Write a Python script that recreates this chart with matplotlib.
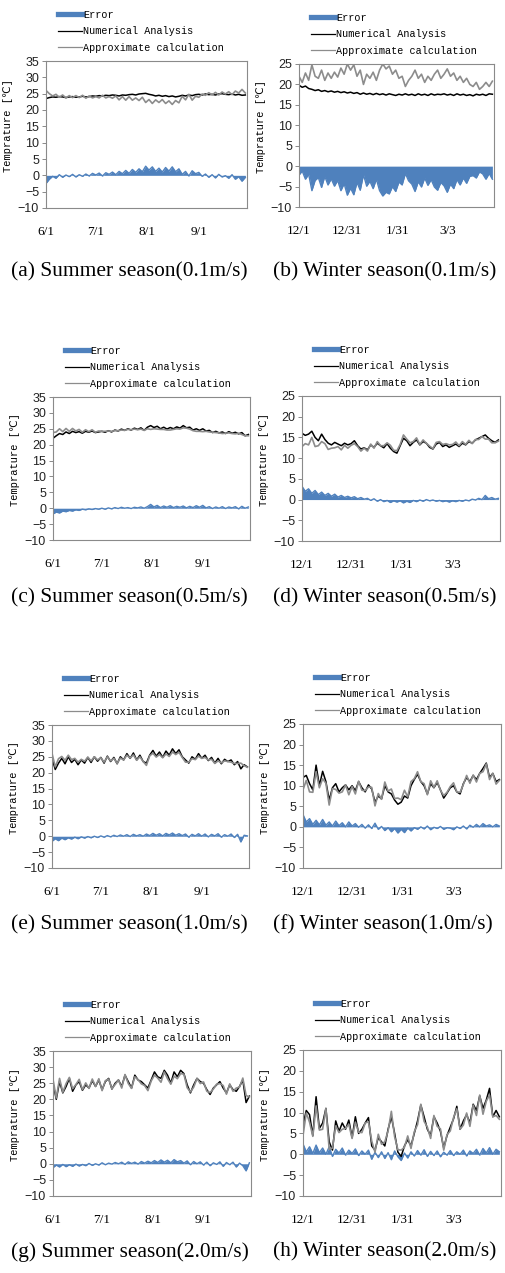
import numpy as np
import matplotlib
matplotlib.use("Agg")
import matplotlib.pyplot as plt
from matplotlib.lines import Line2D

# -------------------- DATA (one value every 2 days) --------------------
# numerical analysis temperature and error (numerical - approximate), in degC
num_a = [23.5, 23.8, 24.0, 23.9, 24.1, 24.0, 23.8, 24.0, 24.1, 23.9, 24.0, 24.2, 24.0, 24.1, 24.3,
         24.2, 24.4, 24.3, 24.5, 24.4, 24.6, 24.5, 24.3, 24.6, 24.5, 24.7, 24.8, 24.6, 24.9, 25.0,
         25.1, 24.8, 24.6, 24.3, 24.5, 24.2, 24.4, 24.1, 24.3, 24.0, 24.2, 24.5, 24.3, 24.6, 24.4, 24.7,
         24.8, 24.6, 24.9, 24.7, 24.8, 24.6, 24.9, 25.0, 24.8, 24.7, 24.9, 24.6, 24.8, 24.5, 24.6]
err_a = [-2.5, -1.2, -0.3, -0.9, 0.2, -0.6, 0.1, -0.4, 0.3, -0.5, 0.2, -0.3, 0.4, -0.2, 0.6,
         0.1, 0.7, -0.2, 0.8, 0.3, 1.0, 0.2, 1.2, 0.5, 1.5, 0.6, 1.8, 0.9, 2.0, 1.1,
         2.8, 1.6, 2.6, 1.2, 2.2, 1.0, 2.4, 1.3, 2.6, 1.1, 2.0, 0.3, 1.2, -0.2, 1.4, 0.5,
         0.9, -0.3, 0.4, -0.6, 0.2, -0.8, 0.3, -0.5, -0.1, -0.9, 0.2, -1.2, -0.4, -1.8, -0.6]

num_b = [19.8, 19.3, 19.6, 19.0, 18.8, 18.5, 18.7, 18.3, 18.5, 18.2, 18.4, 18.1, 18.3, 18.0, 18.2,
         17.9, 18.1, 17.8, 18.0, 17.6, 17.9, 17.6, 17.8, 17.5, 17.8, 17.5, 17.7, 17.4, 17.7, 17.5,
         17.3, 17.6, 17.4, 17.7, 17.4, 17.6, 17.3, 17.7, 17.4, 17.6, 17.3, 17.7, 17.4, 17.6, 17.5, 17.7,
         17.4, 17.6, 17.3, 17.7, 17.4, 17.6, 17.3, 17.5, 17.2, 17.6, 17.4, 17.6, 17.3, 17.7, 17.6]
err_b = [-2.2, -1.2, -3.2, -2.0, -6.0, -3.5, -2.8, -5.2, -2.5, -4.6, -3.1, -4.9, -3.5, -6.0, -4.3,
         -7.1, -5.4, -7.0, -4.0, -5.9, -2.1, -4.9, -3.7, -5.5, -3.2, -6.0, -7.3, -6.4, -6.8, -5.0,
         -6.2, -3.9, -4.6, -1.8, -3.6, -4.4, -6.2, -3.8, -5.1, -2.9, -4.7, -3.3, -5.1, -5.9, -4.0, -4.8,
         -6.4, -4.4, -5.5, -3.3, -4.6, -2.9, -4.2, -2.5, -2.3, -2.9, -1.4, -1.9, -3.2, -1.8, -3.2]

num_c = [22.0, 22.8, 23.5, 23.2, 24.0, 23.5, 24.2, 23.8, 24.1, 23.6, 24.2, 23.9, 24.3, 23.8, 24.0,
         24.2, 23.9, 24.4, 24.0, 24.6, 24.3, 24.9, 24.5, 25.0, 24.6, 25.2, 24.8, 25.3, 24.5, 25.5,
         26.0, 25.4, 25.8, 25.0, 25.5, 24.9, 25.4, 25.0, 25.6, 25.2, 26.0, 25.3, 25.5, 24.6, 25.0, 24.5,
         25.0, 24.3, 24.5, 23.8, 24.2, 23.7, 24.0, 23.5, 24.1, 23.6, 23.9, 23.4, 23.8, 22.8, 23.2]
err_c = [-1.8, -1.2, -1.5, -0.9, -1.1, -0.7, -0.9, -0.5, -0.7, -0.3, -0.5, -0.2, -0.4, -0.1, -0.3,
         0.0, -0.3, 0.1, -0.2, 0.2, -0.1, 0.3, 0.0, 0.2, -0.1, 0.3, 0.1, 0.4, 0.0, 0.5,
         1.2, 0.4, 0.9, 0.2, 0.7, 0.3, 0.8, 0.2, 0.6, 0.3, 0.7, 0.1, 0.6, 0.2, 0.8, 0.3,
         0.9, 0.1, 0.5, -0.1, 0.4, 0.0, 0.5, -0.1, 0.4, 0.1, 0.5, -0.2, 0.6, 0.0, 0.4]

num_d = [16.0, 15.5, 15.8, 16.5, 15.0, 14.2, 15.8, 14.5, 13.6, 13.2, 13.8, 13.4, 13.0, 13.6, 13.2,
         13.5, 14.2, 13.0, 12.2, 12.5, 12.0, 13.2, 12.6, 13.6, 13.0, 12.5, 13.5, 12.4, 11.6, 11.2,
         13.0, 14.8, 14.2, 13.0, 13.8, 14.4, 13.2, 14.0, 13.6, 12.6, 12.2, 13.4, 13.8, 12.8, 13.2, 12.6,
         13.0, 13.4, 12.8, 13.6, 13.2, 14.0, 13.6, 14.4, 14.8, 15.2, 15.6, 14.8, 14.2, 13.8, 14.4]
err_d = [3.2, 2.0, 2.6, 1.5, 2.2, 1.2, 1.8, 1.0, 1.5, 0.8, 1.3, 0.6, 1.0, 0.5, 0.8,
         0.4, 0.7, 0.2, 0.5, 0.1, 0.3, -0.2, 0.2, -0.4, 0.0, -0.5, -0.2, -0.7, -0.3, -0.6,
         -0.3, -0.8, -0.4, -0.7, -0.2, -0.5, -0.1, -0.4, 0.0, -0.3, -0.1, -0.4, -0.2, -0.5, -0.3, -0.6,
         -0.3, -0.5, -0.2, -0.4, -0.1, -0.3, 0.1, -0.1, 0.3, 0.0, 1.0, 0.2, 0.5, 0.1, 0.3]

num_e = [24.5, 21.0, 23.0, 24.5, 22.8, 25.0, 23.2, 24.2, 22.5, 24.0, 23.0, 24.8, 23.2, 25.0, 23.6,
         24.8, 23.0, 25.2, 23.5, 24.8, 22.8, 25.0, 24.0, 26.0, 24.5, 26.2, 24.0, 25.5, 23.5, 23.0,
         25.5, 27.0, 25.2, 26.5, 24.8, 26.8, 25.5, 27.5, 26.0, 27.2, 25.0, 24.0, 23.0, 25.0, 24.2, 26.0,
         24.5, 25.5, 23.8, 24.8, 23.0, 24.5, 22.8, 24.2, 23.5, 24.0, 22.5, 23.5, 21.2, 22.5, 21.8]
err_e = [-1.6, -0.8, -1.4, -0.6, -1.1, -0.5, -0.9, -0.3, -0.8, -0.2, -0.6, -0.1, -0.5, 0.0, -0.4,
         0.1, -0.3, 0.2, -0.2, 0.3, -0.1, 0.4, 0.0, 0.5, -0.1, 0.6, 0.1, 0.5, 0.0, 0.7,
         0.2, 0.9, 0.3, 0.8, 0.1, 0.9, 0.4, 1.0, 0.3, 0.8, 0.2, 0.7, -0.3, 0.6, 0.1, 0.8,
         0.0, 0.7, -0.2, 0.6, 0.1, 0.8, -0.3, 0.5, 0.0, 0.7, -0.4, 0.6, -1.8, 0.3, 0.1]

num_f = [12.0, 12.5, 10.5, 9.0, 15.0, 10.0, 13.5, 11.0, 6.5, 9.5, 10.5, 8.5, 9.5, 10.2, 9.0,
         10.0, 8.8, 11.0, 9.5, 8.5, 10.2, 9.2, 6.0, 7.5, 6.8, 10.0, 8.5, 8.0, 6.5, 5.5,
         6.0, 7.5, 7.0, 10.0, 11.5, 12.8, 11.0, 10.0, 8.0, 10.5, 9.5, 10.8, 9.0, 7.0, 8.2, 9.5,
         10.0, 8.5, 8.0, 10.5, 12.0, 11.0, 12.5, 11.5, 13.0, 14.2, 15.5, 12.0, 13.0, 11.0, 11.5]
err_f = [3.0, 1.2, 2.0, 0.6, 1.6, 0.5, 1.8, 0.4, 1.2, 0.2, 1.4, 0.3, 1.0, 0.0, 1.2,
         0.2, 0.8, -0.1, 0.6, -0.3, 0.5, -0.4, 0.9, -0.6, 0.1, -0.9, -0.2, -1.2, -0.4, -1.5,
         -0.6, -1.4, -0.3, -1.0, -0.2, -0.6, 0.0, -0.5, 0.2, -0.7, -0.1, -0.4, 0.1, -0.6, -0.2, -0.3,
         -0.7, 0.0, -0.4, 0.2, -0.5, 0.4, -0.1, 0.6, 0.0, 0.8, 0.2, 0.5, 0.0, 0.6, 0.2]

num_g = [25.0, 20.0, 25.5, 22.0, 24.0, 26.5, 22.5, 24.5, 25.5, 22.8, 24.5, 23.5, 25.8, 24.0, 26.0,
         23.0, 25.5, 26.5, 23.2, 25.0, 26.0, 24.0, 27.5, 25.5, 23.5, 27.5, 26.0, 25.5, 24.5, 23.5,
         26.0, 28.5, 27.0, 26.5, 29.0, 27.5, 25.0, 28.5, 27.0, 29.0, 28.0, 24.5, 22.0, 24.5, 26.5, 25.5,
         25.0, 23.0, 21.5, 23.5, 24.5, 25.5, 23.5, 22.0, 24.5, 23.0, 22.5, 24.0, 26.0, 19.0, 21.0]
err_g = [-1.2, -0.4, -1.0, -0.2, -0.9, -0.3, -0.8, -0.1, -0.7, -0.2, -0.6, 0.1, -0.5, 0.0, -0.4,
         0.3, -0.3, 0.2, -0.1, 0.4, 0.0, 0.5, -0.2, 0.6, 0.1, 0.5, -0.1, 0.7, 0.2, 0.8,
         0.3, 1.0, 0.4, 1.2, 0.5, 1.1, 0.3, 1.3, 0.6, 1.0, 0.2, 0.9, -0.3, 0.7, 0.0, 0.6,
         -0.4, 0.5, -0.6, 0.3, -0.2, 0.6, -0.8, 0.4, -0.3, 0.5, -1.0, 0.2, -0.6, -2.2, 0.3]

num_h = [7.0, 10.5, 9.5, 4.5, 13.8, 6.2, 7.5, 11.0, 3.0, 1.0, 8.0, 5.5, 7.5, 6.0, 8.2,
         4.0, 9.0, 5.0, 6.0, 7.5, 8.8, 2.0, 1.0, 4.0, 3.0, 2.0, 6.0, 9.0, 5.0, 0.5,
         -0.5, 2.0, 3.5, 2.0, 5.0, 8.0, 11.8, 9.0, 6.0, 4.5, 9.0, 7.5, 5.5, 1.5, 4.5, 6.5,
         8.5, 11.5, 6.0, 8.0, 9.5, 7.5, 12.0, 10.5, 14.0, 11.0, 13.0, 15.8, 9.0, 10.5, 9.0]
err_h = [2.5, 0.6, 1.8, 0.2, 2.2, 0.4, 1.5, 0.0, 1.8, -0.5, 1.2, 0.3, 1.5, -0.2, 1.0,
         0.2, 1.3, -0.3, 0.8, 0.0, 1.0, -1.2, 0.5, -0.8, 0.6, -1.0, 0.4, -1.3, 0.8, -0.6,
         -1.5, 0.3, -0.9, 0.6, -0.4, 0.9, -0.2, 1.1, -0.5, 0.7, -0.3, 0.8, -0.6, 0.5, -0.2, 0.9,
         -0.3, 0.6, 0.0, 1.0, -0.4, 0.8, 0.2, 1.2, -0.2, 1.4, 0.3, 1.6, 0.0, 1.2, 0.6]

tick_days = [0, 30, 61, 92]
summer_ticks = ["6/1", "7/1", "8/1", "9/1"]
winter_ticks = ["12/1", "12/31", "1/31", "3/3"]
captions = ["(a) Summer season(0.1m/s)", "(b) Winter season(0.1m/s)",
            "(c) Summer season(0.5m/s)", "(d) Winter season(0.5m/s)",
            "(e) Summer season(1.0m/s)", "(f) Winter season(1.0m/s)",
            "(g) Summer season(2.0m/s)", "(h) Winter season(2.0m/s)"]
series_names = ["Error", "Numerical Analysis", "Approximate calculation"]

# -------------------- LAYOUT (pixels) --------------------
W, H = 506, 1273
boxes = [(46, 61, 247, 208), (299, 64, 494, 207),
         (53, 397, 250, 540), (302, 396, 500, 541),
         (52, 725, 249, 868), (303, 724, 501, 868),
         (53, 1051, 251, 1196), (303, 1050, 501, 1196)]
caption_y = [272, 598, 925, 1252]

BLUE = "#4F81BD"
GRAY = "#8c8c8c"
MONO = ["Liberation Mono", "DejaVu Sans Mono", "DejaVu Sans"]

fig = plt.figure(figsize=(W / 100, H / 100), dpi=100)

panels = [(num_a, err_a), (num_b, err_b), (num_c, err_c), (num_d, err_d),
          (num_e, err_e), (num_f, err_f), (num_g, err_g), (num_h, err_h)]

for k, ((num, err), (l, t, r, b)) in enumerate(zip(panels, boxes)):
    summer = k % 2 == 0
    num = np.array(num)
    err = np.array(err)
    appr = num - err
    days = np.arange(0, 2 * len(num), 2)

    ax = fig.add_axes([l / W, 1 - b / H, (r - l) / W, (b - t) / H])
    ax.fill_between(days, 0, err, color=BLUE, lw=0)
    ax.plot(days, err, color=BLUE, lw=1.0)
    ax.plot(days, num, color="black", lw=1.1)
    ax.plot(days, appr, color=GRAY, lw=1.2)

    ax.set_xlim(0, 121)
    if summer:
        ax.set_ylim(-10, 35)
        ax.set_yticks(range(-10, 36, 5))
        ax.set_xticks(tick_days, summer_ticks)
    else:
        ax.set_ylim(-10, 25)
        ax.set_yticks(range(-10, 26, 5))
        ax.set_xticks(tick_days, winter_ticks)

    for s in ax.spines.values():
        s.set_color("#8a8a8a")
        s.set_linewidth(0.8)
    ax.tick_params(axis="x", length=0, pad=13)
    ax.tick_params(axis="y", length=3, width=0.7, color="#8a8a8a", pad=2)
    for lab in ax.get_xticklabels():
        lab.set_fontfamily("Liberation Serif")
        lab.set_fontsize(9.5)
    for lab in ax.get_yticklabels():
        lab.set_fontfamily("Liberation Sans")
        lab.set_fontsize(9)
        lab.set_color("#222222")

    ax.set_ylabel("Temprature [℃]", family=MONO, fontsize=7.5)
    ax.yaxis.set_label_coords(-33 / (r - l), 0.56)

    handles = [Line2D([], [], color=BLUE, lw=3.8),
               Line2D([], [], color="black", lw=0.9),
               Line2D([], [], color=GRAY, lw=0.9)]
    ax.legend(handles, series_names, loc="lower left",
              bbox_to_anchor=(12 / (r - l), 1 + 8 / (b - t)),
              frameon=False, borderpad=0, borderaxespad=0,
              handlelength=2.4, handletextpad=0.05, labelspacing=0.65,
              prop={"family": MONO, "size": 7.3})

    x_cap = 11 if summer else 273
    fig.text(x_cap / W, 1 - caption_y[k // 2] / H, captions[k],
             family="Liberation Serif", fontsize=15.4, ha="left", va="center")

fig.savefig("out.png", dpi=100)
